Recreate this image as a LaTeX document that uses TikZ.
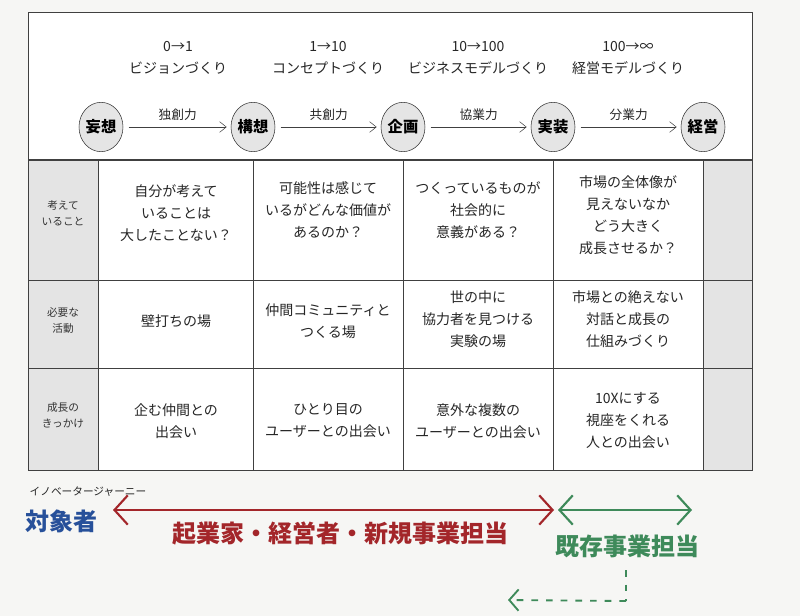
\documentclass[tikz,border=0pt]{standalone}
\usepackage{fontspec}
\setmainfont{Noto Sans CJK JP}
\usetikzlibrary{arrows.meta,shapes.geometric}
\definecolor{bg}{HTML}{F6F6F4}
\definecolor{cellg}{HTML}{E4E4E4}
\definecolor{hred}{HTML}{A3262A}
\definecolor{hgreen}{HTML}{3E8A5A}
\definecolor{hblue}{HTML}{27509A}
\tikzset{
 stage/.style={ellipse,draw=black!80,fill=black!10,minimum width=33pt,minimum height=37pt,inner sep=0pt,font=\fontsize{11.5}{12}\selectfont\bfseries},
 flow/.style={-{Straight Barb[length=5pt,width=8pt]},black!75,thin},
 cell/.style={align=center,font=\fontsize{10.5}{16.5}\selectfont,text=black!85},
 side/.style={align=center,font=\fontsize{8}{12}\selectfont,text=black!80},
 head/.style={align=center,font=\fontsize{10.5}{17}\selectfont,text=black!85},
 hand/.style={font=\fontsize{18}{19}\selectfont\bfseries},
}
\begin{document}
\begin{tikzpicture}[x=0.75pt,y=-0.75pt]
\useasboundingbox (0,0) rectangle (800,616);
\fill[bg] (0,0) rectangle (800,616);
\fill[white] (28,12) rectangle (752,470);
\fill[cellg] (28,160) rectangle (98,470);
\fill[cellg] (703,160) rectangle (752,470);
\draw[black!75] (28,12) rectangle (752,470);
\draw[black!75,line width=1pt] (28,160) -- (752,160);
\foreach \y in {280,368} \draw[black!75] (28,\y) -- (752,\y);
\foreach \x in {98,253,403,553,703} \draw[black!75] (\x,160) -- (\x,470);
% headers
\node[head] (h1) at (178,58) {0→1\\ビジョンづくり};
\node[head] (h2) at (328,58) {1→10\\コンセプトづくり};
\node[head] (h3) at (478,58) {10→100\\ビジネスモデルづくり};
\node[head] (h4) at (628,58) {100→∞\\経営モデルづくり};
% stages
\node[stage] (s1) at (101,127) {妄想};
\node[stage] (s2) at (253,127) {構想};
\node[stage] (s3) at (403,127) {企画};
\node[stage] (s4) at (553,127) {実装};
\node[stage] (s5) at (703,127) {経営};
\foreach \a/\b/\t in {s1/s2/独創力,s2/s3/共創力,s3/s4/協業力,s4/s5/分業力}
  \draw[flow] ([xshift=4pt]\a.east) -- node[above,font=\fontsize{9.5}{10}\selectfont,text=black!85,yshift=1pt]{\t} ([xshift=-3pt]\b.west);
% side labels
\node[side] (r1) at (63,213) {考えて\\いること};
\node[side] (r2) at (63,320) {必要な\\活動};
\node[side] (r3) at (63,415) {成長の\\きっかけ};
% cells
\node[cell] (c11) at (176,213) {自分が考えて\\いることは\\大したことない？};
\node[cell] (c12) at (328,210) {可能性は感じて\\いるがどんな価値が\\あるのか？};
\node[cell] (c13) at (478,210) {つくっているものが\\社会的に\\意義がある？};
\node[cell] (c14) at (628,215) {市場の全体像が\\見えないなか\\どう大きく\\成長させるか？};
\node[cell] (c21) at (176,321) {壁打ちの場};
\node[cell] (c22) at (328,321) {仲間コミュニティと\\つくる場};
\node[cell] (c23) at (478,319) {世の中に\\協力者を見つける\\実験の場};
\node[cell] (c24) at (628,319) {市場との絶えない\\対話と成長の\\仕組みづくり};
\node[cell] (c31) at (176,421) {企む仲間との\\出会い};
\node[cell] (c32) at (328,421) {ひとり目の\\ユーザーとの出会い};
\node[cell] (c33) at (478,421) {意外な複数の\\ユーザーとの出会い};
\node[cell] (c34) at (628,421) {10Xにする\\視座をくれる\\人との出会い};
% bottom
\node[anchor=west,font=\fontsize{8}{9}\selectfont,text=black!85] (ij) at (25,492) {イノベータージャーニー};
\node[hand,text=hblue] (tg) at (62,521) {対象者};
\coordinate (ra) at (113,510);
\coordinate (rb) at (554,510);
\draw[hred,line width=1.6pt,{Straight Barb[length=10pt,width=22pt]}-{Straight Barb[length=10pt,width=22pt]}] (ra) -- (rb);
\node[hand,text=hred] (rt) at (340,534) {起業家・経営者・新規事業担当};
\coordinate (ga) at (558,510);
\coordinate (gb) at (692,510);
\draw[hgreen,line width=1.6pt,{Straight Barb[length=10pt,width=22pt]}-{Straight Barb[length=10pt,width=22pt]}] (ga) -- (gb);
\node[hand,text=hgreen] (gt) at (627,546) {既存事業担当};
\coordinate (d1) at (626,570);
\coordinate (d2) at (626,601);
\coordinate (d3) at (508,600);
\draw[hgreen,line width=1.4pt,dash pattern=on 5pt off 6pt] (d1) -- (d2);
\draw[hgreen,line width=1.4pt,dash pattern=on 5pt off 6pt,-{Straight Barb[length=7pt,width=16pt]}] (d2) -- (d3);
\end{tikzpicture}
\end{document}
